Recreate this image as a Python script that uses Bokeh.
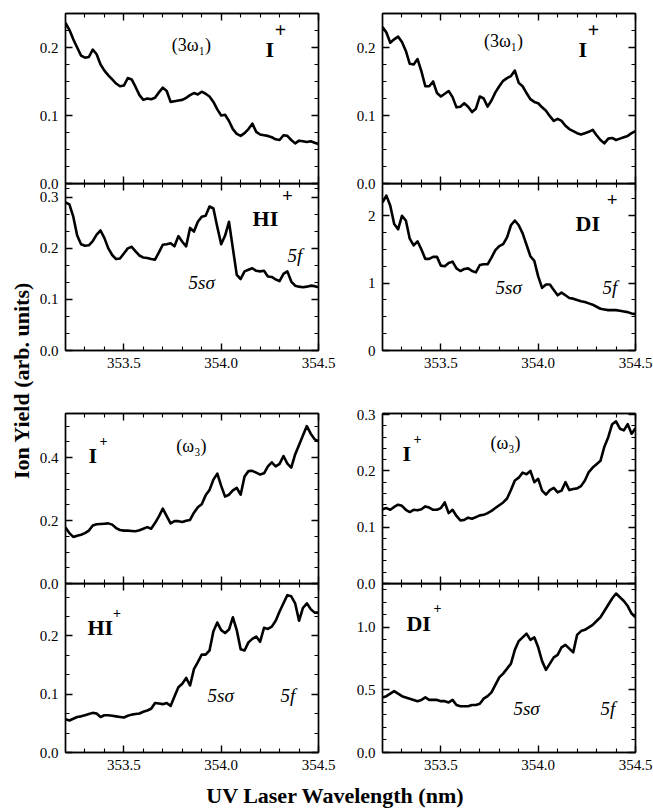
import math
from bokeh.plotting import figure
from bokeh.models import Range1d, LinearAxis, FixedTicker, Label, PrintfTickFormatter, CustomJSTickFormatter
from bokeh.layouts import row, column
from bokeh.embed import file_html
from bokeh.resources import INLINE

FONT = "Liberation Serif"

# ---------------- data ----------------
wavelength = [353.20, 353.22, 353.24, 353.26, 353.28, 353.30, 353.32, 353.34, 353.36, 353.38,
              353.40, 353.42, 353.44, 353.46, 353.48, 353.50, 353.52, 353.54, 353.56, 353.58,
              353.60, 353.62, 353.64, 353.66, 353.68, 353.70, 353.72, 353.74, 353.76, 353.78,
              353.80, 353.82, 353.84, 353.86, 353.88, 353.90, 353.92, 353.94, 353.96, 353.98,
              354.00, 354.02, 354.04, 354.06, 354.08, 354.10, 354.12, 354.14, 354.16, 354.18,
              354.20, 354.22, 354.24, 354.26, 354.28, 354.30, 354.32, 354.34, 354.36, 354.38,
              354.40, 354.42, 354.44, 354.46, 354.48, 354.50]

# I+ (3w1) measured with HI
i_3w1_hi = [0.236, 0.226, 0.212, 0.200, 0.188, 0.185, 0.186, 0.197, 0.190, 0.175,
            0.166, 0.159, 0.153, 0.147, 0.143, 0.144, 0.155, 0.153, 0.142, 0.130,
            0.123, 0.125, 0.124, 0.126, 0.134, 0.141, 0.136, 0.120, 0.121, 0.122,
            0.123, 0.126, 0.130, 0.133, 0.131, 0.135, 0.132, 0.128, 0.120, 0.109,
            0.100, 0.101, 0.092, 0.080, 0.073, 0.070, 0.074, 0.080, 0.088, 0.076,
            0.072, 0.071, 0.070, 0.068, 0.065, 0.064, 0.071, 0.070, 0.064, 0.059,
            0.063, 0.062, 0.061, 0.062, 0.060, 0.058]
# I+ (3w1) measured with DI
i_3w1_di = [0.230, 0.222, 0.207, 0.212, 0.216, 0.208, 0.195, 0.176, 0.175, 0.183,
            0.165, 0.143, 0.143, 0.150, 0.133, 0.128, 0.132, 0.136, 0.127, 0.112,
            0.113, 0.118, 0.113, 0.105, 0.110, 0.128, 0.125, 0.113, 0.122, 0.134,
            0.143, 0.151, 0.155, 0.158, 0.166, 0.148, 0.143, 0.133, 0.124, 0.120,
            0.118, 0.112, 0.107, 0.099, 0.092, 0.095, 0.092, 0.085, 0.080, 0.077,
            0.074, 0.072, 0.074, 0.076, 0.079, 0.071, 0.064, 0.059, 0.066, 0.067,
            0.064, 0.066, 0.068, 0.070, 0.074, 0.077]
# HI+ (3w1)
hi_3w1 = [0.290, 0.286, 0.262, 0.225, 0.208, 0.205, 0.206, 0.214, 0.227, 0.235,
          0.220, 0.200, 0.187, 0.179, 0.180, 0.190, 0.200, 0.203, 0.194, 0.186,
          0.182, 0.181, 0.179, 0.178, 0.192, 0.207, 0.208, 0.210, 0.204, 0.224,
          0.213, 0.204, 0.240, 0.233, 0.252, 0.262, 0.264, 0.282, 0.278, 0.242,
          0.208, 0.225, 0.252, 0.200, 0.148, 0.140, 0.155, 0.158, 0.161, 0.156,
          0.155, 0.156, 0.145, 0.144, 0.139, 0.136, 0.150, 0.155, 0.135, 0.127,
          0.125, 0.124, 0.125, 0.127, 0.126, 0.124]
# DI+ (3w1)
di_3w1 = [2.20, 2.30, 2.15, 1.88, 1.80, 2.00, 1.93, 1.66, 1.56, 1.62,
          1.50, 1.36, 1.36, 1.39, 1.39, 1.26, 1.25, 1.30, 1.32, 1.22,
          1.18, 1.21, 1.22, 1.18, 1.16, 1.27, 1.28, 1.28, 1.38, 1.49,
          1.55, 1.58, 1.68, 1.86, 1.93, 1.86, 1.74, 1.57, 1.40, 1.33,
          1.10, 0.93, 0.98, 0.98, 0.90, 0.82, 0.86, 0.82, 0.78, 0.77,
          0.75, 0.73, 0.72, 0.70, 0.68, 0.65, 0.62, 0.61, 0.60, 0.60,
          0.60, 0.59, 0.58, 0.57, 0.55, 0.54]
# I+ (w3) measured with HI
i_w3_hi = [0.178, 0.160, 0.148, 0.152, 0.155, 0.160, 0.168, 0.184, 0.188, 0.189,
           0.190, 0.191, 0.187, 0.176, 0.170, 0.168, 0.168, 0.167, 0.166, 0.169,
           0.174, 0.179, 0.174, 0.192, 0.213, 0.238, 0.214, 0.191, 0.198, 0.198,
           0.195, 0.199, 0.202, 0.225, 0.242, 0.252, 0.280, 0.297, 0.330, 0.349,
           0.310, 0.276, 0.282, 0.296, 0.304, 0.282, 0.340, 0.357, 0.358, 0.352,
           0.346, 0.350, 0.372, 0.385, 0.372, 0.380, 0.405, 0.381, 0.368, 0.410,
           0.440, 0.470, 0.500, 0.476, 0.458, 0.452]
# I+ (w3) measured with DI
i_w3_di = [0.132, 0.134, 0.131, 0.136, 0.140, 0.138, 0.131, 0.127, 0.131, 0.130,
           0.132, 0.137, 0.135, 0.131, 0.131, 0.134, 0.144, 0.125, 0.131, 0.120,
           0.112, 0.113, 0.117, 0.115, 0.118, 0.121, 0.122, 0.125, 0.129, 0.134,
           0.139, 0.144, 0.151, 0.166, 0.183, 0.188, 0.197, 0.194, 0.200, 0.180,
           0.186, 0.165, 0.158, 0.166, 0.170, 0.162, 0.165, 0.180, 0.166, 0.168,
           0.169, 0.173, 0.183, 0.198, 0.206, 0.212, 0.218, 0.243, 0.260, 0.283,
           0.288, 0.275, 0.272, 0.283, 0.266, 0.276]
# HI+ (w3)
hi_w3 = [0.057, 0.055, 0.058, 0.061, 0.062, 0.064, 0.066, 0.068, 0.067, 0.061,
         0.064, 0.064, 0.063, 0.062, 0.061, 0.060, 0.063, 0.065, 0.066, 0.067,
         0.070, 0.072, 0.075, 0.085, 0.084, 0.083, 0.085, 0.080, 0.096, 0.112,
         0.118, 0.128, 0.115, 0.143, 0.155, 0.168, 0.168, 0.175, 0.208, 0.223,
         0.210, 0.205, 0.211, 0.232, 0.210, 0.177, 0.175, 0.189, 0.195, 0.199,
         0.190, 0.214, 0.212, 0.216, 0.226, 0.242, 0.256, 0.270, 0.268, 0.256,
         0.226, 0.248, 0.256, 0.246, 0.240, 0.240]
# DI+ (w3)
di_w3 = [0.44, 0.45, 0.47, 0.49, 0.47, 0.45, 0.44, 0.43, 0.42, 0.41,
         0.42, 0.44, 0.42, 0.42, 0.42, 0.41, 0.41, 0.40, 0.42, 0.38,
         0.37, 0.37, 0.37, 0.38, 0.38, 0.39, 0.43, 0.45, 0.48, 0.54,
         0.60, 0.63, 0.67, 0.71, 0.82, 0.89, 0.92, 0.95, 0.90, 0.92,
         0.84, 0.73, 0.66, 0.71, 0.76, 0.78, 0.84, 0.86, 0.83, 0.80,
         0.94, 0.97, 0.98, 1.00, 1.02, 1.05, 1.08, 1.13, 1.18, 1.23,
         1.27, 1.24, 1.21, 1.17, 1.11, 1.08]

# ticks
x_major = [353.5, 354.0, 354.5]
x_minor = [353.3, 353.4, 353.6, 353.7, 353.8, 353.9, 354.1, 354.2, 354.3, 354.4]

y_major_i3w1 = [0.0, 0.1, 0.2]
y_minor_i3w1 = [0.025, 0.05, 0.075, 0.125, 0.15, 0.175, 0.225]
y_major_hi3w1 = [0.0, 0.1, 0.2, 0.3]
y_minor_hi3w1 = [0.0333, 0.0667, 0.1333, 0.1667, 0.2333, 0.2667, 0.3167]
y_major_di3w1 = [0, 1, 2]
y_minor_di3w1 = [0.25, 0.5, 0.75, 1.25, 1.5, 1.75, 2.25]
y_major_iw3hi = [0.0, 0.2, 0.4]
y_minor_iw3hi = [0.05, 0.1, 0.15, 0.25, 0.3, 0.35, 0.45, 0.5]
y_major_iw3di = [0.0, 0.1, 0.2, 0.3]
y_minor_iw3di = [0.02, 0.04, 0.06, 0.08, 0.12, 0.14, 0.16, 0.18, 0.22, 0.24, 0.26, 0.28]
y_major_hiw3 = [0.0, 0.1, 0.2]
y_minor_hiw3 = [0.0333, 0.0667, 0.1333, 0.1667, 0.2333, 0.2667]
y_major_diw3 = [0.0, 0.5, 1.0]
y_minor_diw3 = [0.1, 0.2, 0.3, 0.4, 0.6, 0.7, 0.8, 0.9, 1.1, 1.2, 1.3]

y_title = "Ion Yield (arb. units)"
x_title = "UV Laser Wavelength (nm)"

# ---------------- helpers ----------------
def style_axis(ax, show, fmt="%.1f"):
    ax.axis_line_color = "black"
    ax.axis_line_width = 1.4
    ax.major_tick_line_color = "black"
    ax.minor_tick_line_color = "black"
    ax.major_tick_line_width = 1.4
    ax.minor_tick_line_width = 1.1
    ax.major_tick_in = 7
    ax.major_tick_out = 0
    ax.minor_tick_in = 4
    ax.minor_tick_out = 0
    if show:
        ax.formatter = PrintfTickFormatter(format=fmt)
        ax.major_label_text_font = FONT
        ax.major_label_text_font_size = "15px"
        ax.major_label_text_color = "black"
        ax.major_label_standoff = 7
    else:
        ax.formatter = CustomJSTickFormatter(code="return ''")
        ax.major_label_text_font_size = "0px"
        ax.major_label_standoff = 0


def panel(y, yr, ymaj, ymin, yfmt, xlabels, left_col, top_b, bot_b, frame_h):
    if left_col:
        w, bl, br = 304, 31, 20
    else:
        w, bl, br = 315, 44, 18
    h = top_b + frame_h + bot_b
    p = figure(width=w, height=h, x_range=Range1d(353.2, 354.5), y_range=Range1d(yr[0], yr[1]),
               output_backend="svg", toolbar_location=None,
               x_axis_location=None, y_axis_location=None,
               min_border_left=bl, min_border_right=br,
               min_border_top=top_b, min_border_bottom=bot_b)
    p.grid.visible = False
    p.outline_line_color = "black"
    p.outline_line_width = 1.4
    p.background_fill_color = None
    p.border_fill_color = None
    p.border_fill_alpha = 0.0
    xt = FixedTicker(ticks=x_major, minor_ticks=x_minor)
    yt = FixedTicker(ticks=ymaj, minor_ticks=ymin)
    ax_b = LinearAxis(ticker=xt)
    style_axis(ax_b, xlabels)
    ax_t = LinearAxis(ticker=xt)
    style_axis(ax_t, False)
    ax_l = LinearAxis(ticker=yt)
    style_axis(ax_l, True, yfmt)
    ax_r = LinearAxis(ticker=yt)
    style_axis(ax_r, False)
    p.add_layout(ax_b, "below")
    p.add_layout(ax_t, "above")
    p.add_layout(ax_l, "left")
    p.add_layout(ax_r, "right")
    p.line(wavelength, y, line_color="black", line_width=2.6, line_join="round")
    return p


def lab(p, x, y, text, size, style="normal", align="left", baseline="alphabetic"):
    p.add_layout(Label(x=x, y=y, text=text, text_font=FONT, text_font_size=f"{size}px",
                       text_font_style=style, text_align=align, text_baseline=baseline,
                       text_color="black"))


def ion(p, x, y, main, sx, sy, sup_size):
    lab(p, x, y, main, 22, "bold")
    lab(p, sx, sy, "+", sup_size, "bold", "center", "middle")

# ---------------- panels ----------------
pA = panel(i_3w1_hi, (0, 0.25), y_major_i3w1, y_minor_i3w1, "%.1f", False, True, 13, 10, 170)
pB = panel(i_3w1_di, (0, 0.25), y_major_i3w1, y_minor_i3w1, "%.1f", False, False, 13, 10, 170)
pC = panel(hi_3w1, (0, 0.327), y_major_hi3w1, y_minor_hi3w1, "%.1f", True, True, 0, 30, 167)
pD = panel(di_3w1, (0, 2.48), y_major_di3w1, y_minor_di3w1, "%.0f", True, False, 0, 30, 167)
pE = panel(i_w3_hi, (0, 0.54), y_major_iw3hi, y_minor_iw3hi, "%.1f", False, True, 33, 10, 170)
pF = panel(i_w3_di, (0, 0.302), y_major_iw3di, y_minor_iw3di, "%.1f", False, False, 33, 10, 170)
pG = panel(hi_w3, (0, 0.29), y_major_hiw3, y_minor_hiw3, "%.1f", True, True, 0, 26, 169)
pH = panel(di_w3, (0, 1.35), y_major_diw3, y_minor_diw3, "%.1f", True, False, 0, 26, 169)

# annotations
lab(pA, 353.847, 0.203, "(3ω₁)", 18, "normal", "center", "middle")
ion(pA, 354.228, 0.197, "I", 354.305, 0.226, 20)
lab(pB, 353.822, 0.209, "(3ω₁)", 18, "normal", "center", "middle")
ion(pB, 354.207, 0.197, "I", 354.284, 0.226, 20)

ion(pC, 354.161, 0.259, "HI", 354.340, 0.303, 19)
lab(pC, 354.341, 0.186, "5f", 19, "italic")
lab(pC, 353.832, 0.133, "5sσ", 19, "italic")

ion(pD, 354.192, 1.881, "DI", 354.380, 2.245, 19)
lab(pD, 354.331, 0.930, "5f", 19, "italic")
lab(pD, 353.781, 0.930, "5sσ", 19, "italic")

ion(pE, 353.318, 0.407, "I", 353.395, 0.452, 14)
lab(pE, 353.847, 0.436, "(ω₃)", 18, "normal", "center", "middle")
ion(pF, 353.303, 0.231, "I", 353.380, 0.257, 14)
lab(pF, 353.832, 0.249, "(ω₃)", 18, "normal", "center", "middle")

ion(pG, 353.313, 0.214, "HI", 353.465, 0.240, 14)
lab(pG, 353.930, 0.097, "5sσ", 19, "italic")
lab(pG, 354.305, 0.097, "5f", 19, "italic")

ion(pH, 353.323, 1.033, "DI", 353.482, 1.158, 14)
lab(pH, 353.873, 0.348, "5sσ", 19, "italic")
lab(pH, 354.320, 0.348, "5f", 19, "italic")

# titles
def blank(w, h):
    f = figure(width=w, height=h, x_range=Range1d(0, w), y_range=Range1d(0, h),
               output_backend="svg", toolbar_location=None,
               x_axis_location=None, y_axis_location=None, min_border=0)
    f.grid.visible = False
    f.outline_line_color = None
    f.background_fill_color = None
    f.border_fill_color = None
    return f

yfig = blank(34, 809)
yfig.add_layout(Label(x=21, y=809 - 380, text=y_title, angle=math.pi / 2,
                      text_font=FONT, text_font_size="22px", text_font_style="bold",
                      text_align="center", text_baseline="middle", text_color="black"))
xfig = blank(619, 31)
xfig.add_layout(Label(x=301, y=14, text=x_title,
                      text_font=FONT, text_font_size="22px", text_font_style="bold",
                      text_align="center", text_baseline="middle", text_color="black"))

r1 = row(pA, pB)
r2 = row(pC, pD, margin=(-10, 0, 0, 0))
r3 = row(pE, pF)
r4 = row(pG, pH, margin=(-10, 0, 0, 0))
layout = row(yfig, column(r1, r2, r3, r4, xfig))

open("out.html", "w").write(file_html(layout, INLINE))
